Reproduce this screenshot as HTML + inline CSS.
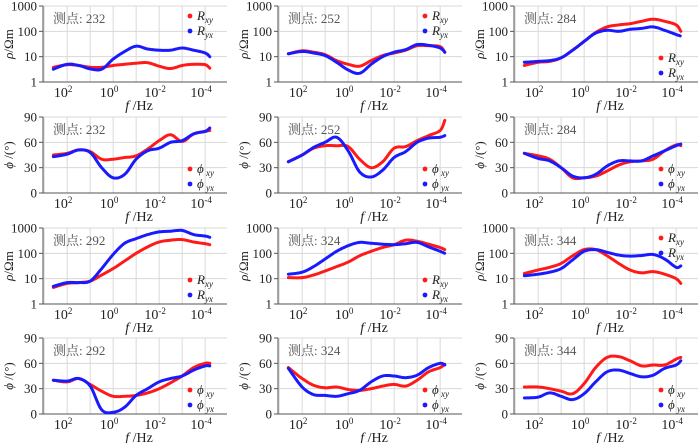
<!DOCTYPE html>
<html><head><meta charset="utf-8"><style>
html,body{margin:0;padding:0;background:#fff;width:700px;height:443px;overflow:hidden}
svg text{font-family:"Liberation Serif","Noto Serif CJK SC",serif}
</style></head><body>
<svg id="c" width="700" height="443" viewBox="0 0 700 443" xmlns="http://www.w3.org/2000/svg"></svg>
<script>
const freqLog = [2.6,2,1.5,1,0.5,0,-0.5,-1,-1.5,-2,-2.5,-3,-3.5,-4,-4.2];
const stations = ["232","252","284","292","324","344"];
const rxy232=[3.8,4.8,4.5,3.8,3.8,4.5,5,5.5,5.8,4.2,3.4,4.5,5,4.8,3.5];
const ryx232=[3.2,5,4.5,3.3,3.2,8,16,26,20,18,18,22,18,14,10];
const pxy232=[45,47,51,49,40,40,42,44,52,62,69,61,70,73,74];
const pyx232=[43,46,51,48,30,18,22,40,50,53,60,62,70,73,77];
const rxy252=[13,17,15,12,7,5,4.2,7,11,14,18,27,27,25,15];
const ryx252=[13,16,14,11,6,3,2.2,5,10,15,19,30,28,22,15];
const pxy252=[37,45,53,56,56,55,40,30,37,53,55,62,68,74,86];
const pyx252=[37,45,54,60,66,50,25,19,27,42,49,60,65,66,68];
const rxy284=[4.5,6,6.5,9,18,40,90,150,180,200,250,300,250,180,100];
const ryx284=[6,6.5,7,9,18,40,85,110,100,120,130,150,110,75,65];
const pxy284=[47,44,40,30,18,18,20,26,33,37,38,40,50,57,56];
const pyx284=[47,41,38,30,20,18,22,32,38,38,38,44,50,56,58];
const rxy292=[4.5,6.5,7,8,14,25,50,100,180,280,330,350,280,240,220];
const ryx292=[5,7,7,8,25,90,250,380,550,700,750,800,550,480,430];
const pxy292=[40,38,42,35,27,21,21,22,25,30,37,45,55,60,60];
const pyx292=[40,39,42,33,5,2,8,22,30,38,42,45,52,57,57];
const rxy324=[11,11,14,20,30,45,80,120,170,220,330,300,230,170,140];
const ryx324=[15,18,30,60,120,200,270,250,230,220,240,270,180,120,100];
const pxy324=[55,42,34,31,32,29,28,30,33,35,33,40,50,55,59];
const pyx324=[54,32,23,22,21,24,28,38,45,45,43,46,55,60,58];
const rxy344=[16,22,28,40,80,140,140,80,40,22,17,19,15,10,6.5];
const ryx344=[13,15,18,25,55,120,140,110,85,78,82,90,60,28,32];
const pxy344=[32,32,30,27,24,36,55,67,68,63,57,58,58,65,67];
const pyx344=[19,20,25,21,17,24,38,50,52,48,44,46,54,58,63];
const rhoTicks=["1","10","100","1000"];
const phiTicks=["0","30","60","90"];
const xTickExp=["2","0","-2","-4"];

const data={"232":[rxy232,ryx232,pxy232,pyx232],"252":[rxy252,ryx252,pxy252,pyx252],"284":[rxy284,ryx284,pxy284,pyx284],
"292":[rxy292,ryx292,pxy292,pyx292],"324":[rxy324,ryx324,pxy324,pyx324],"344":[rxy344,ryx344,pxy344,pyx344]};
const rhoLegendTop={"232":true,"252":true,"284":false,"292":false,"324":false,"344":true};

const NS="http://www.w3.org/2000/svg";
const svg=document.getElementById('c');
function mk(t,a,p){const e=document.createElementNS(NS,t);for(const k in a)e.setAttribute(k,a[k]);(p||svg).appendChild(e);return e;}
const colL=[43,278,514], W=184, rowT=[6,117,228,338], H=76;
const RED="#ff1a1a", BLUE="#1a1aff";
function smooth(pts){let d="M"+pts[0][0]+","+pts[0][1];for(let i=0;i<pts.length-1;i++){const p0=pts[Math.max(0,i-1)],p1=pts[i],p2=pts[i+1],p3=pts[Math.min(pts.length-1,i+2)];
d+=" C"+(p1[0]+(p2[0]-p0[0])/6).toFixed(1)+","+(p1[1]+(p2[1]-p0[1])/6).toFixed(1)+" "+(p2[0]-(p3[0]-p1[0])/6).toFixed(1)+","+(p2[1]-(p3[1]-p1[1])/6).toFixed(1)+" "+p2[0].toFixed(1)+","+p2[1].toFixed(1);}return d;}

function panel(si,kind){
  const st=stations[si]; const col=si%3; const row=Math.floor(si/3)*2+(kind==="phi"?1:0);
  const L=colL[col],T=rowT[row];
  const g=mk('g',{});
  
  
  const xs=lf=>L+(3.05-lf)/8*W;
  const ys=kind==="rho"?(v=>T+H-(Math.log10(v)/3)*H):(v=>T+H-(v/90)*H);
  for(let k=3;k>=-4;k--){const x=xs(k);mk('line',{x1:x,x2:x,y1:T,y2:T+H,stroke:"#d8d8d8","stroke-width":1},g);}
  const ticks=kind==="rho"?rhoTicks:phiTicks;
  ticks.forEach((t,i)=>{const y=T+H-i/3*H;
    if(i>0)mk('line',{x1:L,x2:L+W,y1:y,y2:y,stroke:"#d8d8d8","stroke-width":1},g);
    mk('line',{x1:L-4,x2:L,y1:y,y2:y,stroke:"#555","stroke-width":1},g);
    const tx=mk('text',{x:L-6,y:y+4.5,"font-size":"13","text-anchor":"end",fill:"#222"},g);tx.textContent=t;
    });
  mk('line',{x1:L,x2:L,y1:T,y2:T+H,stroke:"#555","stroke-width":1},g);
  mk('line',{x1:L,x2:L+W,y1:T+H,y2:T+H,stroke:"#555","stroke-width":1},g);
  xTickExp.forEach(e=>{const x=xs(+e);
    const tx=mk('text',{x:x-4,y:T+H+15,"font-size":"14","text-anchor":"middle",fill:"#222"},g);
    
    tx.textContent="10";const sp=mk('tspan',{dy:-5,"font-size":"9"},tx);sp.textContent=e;});
  const xl=mk('text',{x:L+W/2+4,y:T+H+28,"font-size":"14","text-anchor":"middle",fill:"#222"},g);
  
  const fi=mk('tspan',{"font-style":"italic"},xl);fi.textContent="f";const hz=mk('tspan',{},xl);hz.textContent=" /Hz";
  const yl=mk('text',{transform:`translate(${L-30},${T+H/2}) rotate(-90)`,"font-size":"13","text-anchor":"middle",fill:"#222"},g);
  
  if(kind==="rho"){const a=mk('tspan',{"font-style":"italic"},yl);a.textContent="ρ";const b=mk('tspan',{},yl);b.textContent="/Ωm";}
  else{const a=mk('tspan',{"font-style":"italic"},yl);a.textContent="ϕ";const b=mk('tspan',{},yl);b.textContent=" /(°)";}
  const lab=mk('text',{x:L+10,y:T+17,"font-size":"13",fill:"#555"},g);lab.textContent="测点: "+st;
  
  const d=data[st]; const s1=kind==="rho"?d[0]:d[2], s2=kind==="rho"?d[1]:d[3];
  [[s1,RED,'xy'],[s2,BLUE,'yx']].forEach(([s,c,n])=>{
    const pts=freqLog.map((f,i)=>[xs(f),ys(s[i])]);
    const p=mk('path',{d:smooth(pts),fill:"none",stroke:c,"stroke-width":3,"stroke-linecap":"round","stroke-dasharray":"2.2 0.9"},g);
    });
  const top=kind==="rho"&&rhoLegendTop[st];
  const ly=top?T+10:T+H-24;
  [['xy',RED],['yx',BLUE]].forEach(([n,c],i)=>{const y=ly+i*15;
    const lg=mk('g',{},g);
    mk('circle',{cx:L+W-37,cy:y,r:2.4,fill:c},lg);
    const t=mk('text',{x:L+W-30,y:y+4,"font-size":"13",fill:"#222","font-style":"italic"},lg);
    t.textContent=kind==="rho"?"R":"ϕ";const sb=mk('tspan',{dy:3,"font-size":"9"},t);sb.textContent=kind==="rho"?n:" "+n;});
}
for(let i=0;i<6;i++){panel(i,"rho");panel(i,"phi");}
</script>
</body></html>
